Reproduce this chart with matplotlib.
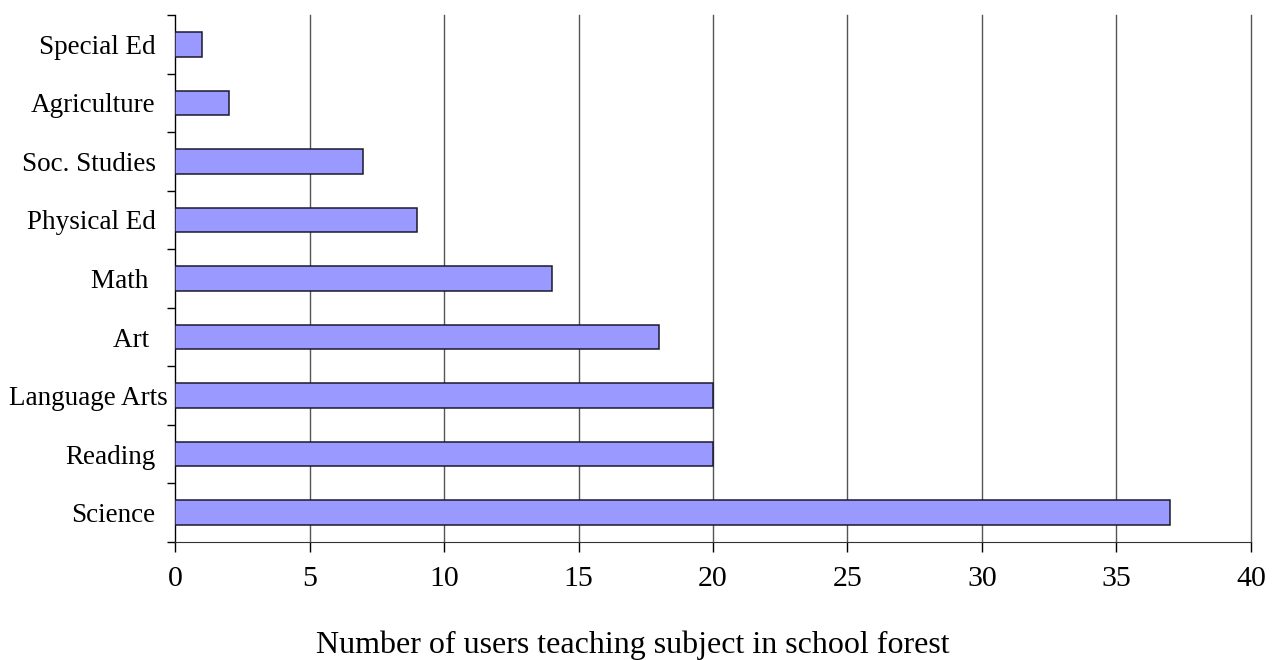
import numpy as np
import matplotlib.pyplot as plt
import matplotlib.transforms as mtransforms
from matplotlib.ticker import FixedLocator

subjects = ['Science', 'Reading', 'Language Arts', 'Art ', 'Math ',
            'Physical Ed', 'Soc. Studies', 'Agriculture', 'Special Ed']
users = [37, 20, 20, 18, 14, 9, 7, 2, 1]
x_ticks = [0, 5, 10, 15, 20, 25, 30, 35, 40]

plt.rcParams['font.family'] = ['Liberation Serif', 'DejaVu Serif']

fig = plt.figure(figsize=(12.77, 6.60), dpi=100)
ax = fig.add_axes([175 / 1277, 1 - 542 / 660, 1076 / 1277, 527 / 660])

pos = np.arange(len(subjects))
ax.barh(pos, users, height=0.42, color='#9999ff', edgecolor='#1a1a2e',
        linewidth=1.1, zorder=3)

ax.set_xlim(0, 40)
ax.set_ylim(-0.5, len(subjects) - 0.5)
ax.set_xticks(x_ticks)
ax.set_xticklabels([str(t) for t in x_ticks], fontsize=21.5)
ax.grid(axis='x', color='#555555', linewidth=1.0, zorder=0)
for gl in ax.xaxis.get_gridlines():
    gl.set_clip_on(False)

# category labels centred on bars, tick marks between the categories
ax.set_yticks(pos)
ax.set_yticklabels(subjects, fontsize=19.5)
ax.tick_params(axis='y', which='major', length=0, pad=14)
ax.yaxis.set_minor_locator(FixedLocator(np.arange(-0.5, len(subjects), 1.0)))
ax.tick_params(axis='y', which='minor', length=6, width=1, direction='out')
ax.tick_params(axis='x', length=7, width=1, direction='out', pad=10)

# the longest label sits a little closer to the axis so it fits
for lbl in ax.get_yticklabels():
    if lbl.get_text() == 'Language Arts':
        lbl.set_transform(lbl.get_transform() + mtransforms.ScaledTranslation(
            12 / 100, 0, fig.dpi_scale_trans))

for side in ['top', 'right']:
    ax.spines[side].set_visible(False)
ax.spines['left'].set_color('black')
ax.spines['bottom'].set_color('#333333')

fig.text(633 / 1277, 1 - 653 / 660,
         'Number of users teaching subject in school forest',
         fontsize=23, ha='center', va='baseline')

fig.savefig('out.png', dpi=100)
